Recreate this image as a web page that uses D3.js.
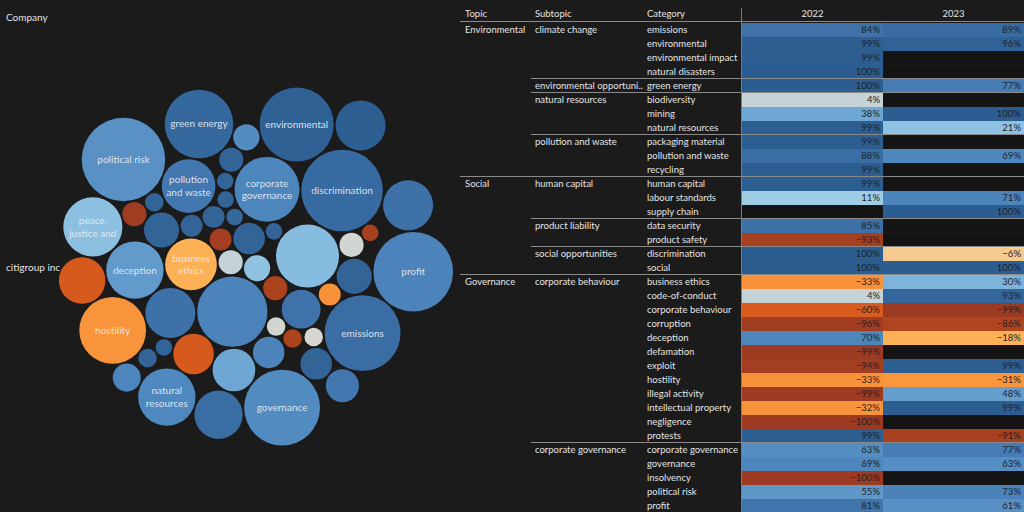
<!DOCTYPE html>
<html><head><meta charset="utf-8">
<script src="https://cdn.jsdelivr.net/npm/d3@7"></script>
<style>
html,body{margin:0;padding:0;background:#1b1b1b;}
svg{display:block;font-family:Lato,"Open Sans",sans-serif;}
</style></head><body>
<svg id="chart" width="1024" height="512"></svg>
<script>
// ---------------- Bubble chart data (category bubbles for the company) ----------------
const bubbleLabels = ["", "", "", "", "", "business ethics", "", "", "", "corporate governance",
  "", "", "", "", "", "deception", "", "", "discrimination", "",
  "", "", "", "", "", "", "emissions", "", "", "hostility",
  "governance", "", "", "", "environmental", "", "green energy", "", "", "natural resources",
  "", "", "", "", "", "peace, justice and", "", "", "profit", "pollution and waste",
  "", "political risk", ""];
const bubbleMentions = [20, 17, 29, 144, 8, 78, 17, 73, 116, 123,
  14, 44, 14, 48, 14, 96, 10, 8, 194, 8,
  36, 29, 53, 20, 17, 10, 168, 8, 36, 130,
  168, 17, 10, 29, 160, 17, 137, 8, 10, 96,
  73, 8, 32, 23, 10, 102, 14, 63, 185, 84,
  73, 203, 68];
const bubbleScores = [20, 4, 95, 72, 95, -18, -88, 85, 25, 70,
  -94, 84, -33, -62, 95, 52, 2, 92, 90, 95,
  95, 72, 38, 65, -97, 1, 88, 95, 95, -32,
  66, 95, -88, 95, 97, 2, 92, -92, 95, 68,
  99, 95, 80, 70, 95, 22, 95, -62, 72, 80,
  85, 60, 88];
const companyName = "citigroup inc";
const companyHeader = "Company";

// ---------------- Table data ----------------
const headerLabels = ["Topic", "Subtopic", "Category"];
const yearLabels = ["2022", "2023"];
const topics = ["Environmental","Environmental","Environmental","Environmental","Environmental","Environmental","Environmental","Environmental","Environmental","Environmental","Environmental",
  "Social","Social","Social","Social","Social","Social","Social",
  "Governance","Governance","Governance","Governance","Governance","Governance","Governance","Governance","Governance","Governance","Governance","Governance",
  "Governance","Governance","Governance","Governance","Governance"];
const subtopics = ["climate change","climate change","climate change","climate change",
  "environmental opportunities",
  "natural resources","natural resources","natural resources",
  "pollution and waste","pollution and waste","pollution and waste",
  "human capital","human capital","human capital",
  "product liability","product liability",
  "social opportunities","social opportunities",
  "corporate behaviour","corporate behaviour","corporate behaviour","corporate behaviour","corporate behaviour","corporate behaviour","corporate behaviour","corporate behaviour","corporate behaviour","corporate behaviour","corporate behaviour","corporate behaviour",
  "corporate governance","corporate governance","corporate governance","corporate governance","corporate governance"];
const categories = ["emissions","environmental","environmental impact","natural disasters",
  "green energy",
  "biodiversity","mining","natural resources",
  "packaging material","pollution and waste","recycling",
  "human capital","labour standards","supply chain",
  "data security","product safety",
  "discrimination","social",
  "business ethics","code-of-conduct","corporate behaviour","corruption","deception","defamation","exploit","hostility","illegal activity","intellectual property","negligence","protests",
  "corporate governance","governance","insolvency","political risk","profit"];
const score2022 = [84, 99, 99, 100, 100, 4, 38, 99, 99, 88, 99, 99, 11, null, 85, -93, 100, 100,
  -33, 4, -60, -96, 70, -99, -94, -33, -99, -32, -100, 99, 63, 69, -100, 55, 81];
const score2023 = [89, 96, null, null, 77, null, 100, 21, null, 69, null, null, 71, 100, null, null, -6, 100,
  30, 93, -99, -86, -18, null, 99, -31, 48, 99, null, -91, 77, 63, null, 73, 61];

// ---------------- Drawing ----------------
const svg = d3.select("#chart");
const textColor = "#e4e4e4";
const lineColor = "#8a8a8a";

const color = d3.scaleLinear()
  .domain([-100, -90, -60, -33, -18, -6, 0, 4, 11, 21, 30, 38, 55, 70, 84, 100])
  .range(["#9c3a22", "#a8411f", "#d95b1d", "#f8923a", "#fdb156", "#f6c98f", "#dcd8cf", "#c5d3d7",
          "#9fcde6", "#8ec2e2", "#7db4dc", "#6fa7d4", "#5f97c9", "#4d86bd", "#3e72a9", "#2c5d90"])
  .clamp(true);

svg.append("text").attr("x", 6).attr("y", 17).attr("dy", "0.35em")
  .attr("fill", textColor).attr("font-size", 10).text(companyHeader);
svg.append("text").attr("x", 6).attr("y", 267).attr("dy", "0.35em")
  .attr("fill", textColor).attr("font-size", 10).text(companyName);

// ---- packed bubbles ----
const rScale = d3.scaleSqrt().domain([0, d3.max(bubbleMentions)]).range([0, 45]);
const pad = 1.0;
const nodes = bubbleMentions.map((m, i) => ({ i, r: rScale(m) + pad }));
d3.packSiblings(nodes);
const enc0 = d3.packEnclose(nodes);
nodes.forEach(d => { d.x -= enc0.x; d.y -= enc0.y; });
// compact the packing into a round blob (deterministic force relaxation)
const sim = d3.forceSimulation(nodes)
  .alpha(0.3).alphaDecay(0)
  .force("x", d3.forceX(0).strength(0.05))
  .force("y", d3.forceY(0).strength(0.05))
  .force("collide", d3.forceCollide(d => d.r).strength(1).iterations(8))
  .stop();
for (let k = 0; k < 700; k++) sim.tick();
sim.alphaDecay(0.02);
for (let k = 0; k < 300; k++) sim.tick();
// presentation: rotate the blob half a turn
const rot = Math.PI;
nodes.forEach(d => {
  const x = d.x, y = d.y;
  d.x = x * Math.cos(rot) - y * Math.sin(rot);
  d.y = x * Math.sin(rot) + y * Math.cos(rot);
});
// fit the blob into the plot region
const plot = { x0: 58, x1: 454, y0: 69, y1: 464 };
const minX = d3.min(nodes, d => d.x - d.r), maxX = d3.max(nodes, d => d.x + d.r);
const minY = d3.min(nodes, d => d.y - d.r), maxY = d3.max(nodes, d => d.y + d.r);
const s = Math.min((plot.x1 - plot.x0) / (maxX - minX), (plot.y1 - plot.y0) / (maxY - minY));
const cxm = (plot.x0 + plot.x1) / 2, cym = (plot.y0 + plot.y1) / 2;
const bx = d3.scaleLinear().domain([(minX + maxX) / 2, (minX + maxX) / 2 + 1]).range([cxm, cxm + s]);
const by = d3.scaleLinear().domain([(minY + maxY) / 2, (minY + maxY) / 2 + 1]).range([cym, cym + s]);

const bub = svg.append("g").attr("class", "bubbles");
bub.selectAll("circle").data(nodes).join("circle")
  .attr("cx", d => bx(d.x)).attr("cy", d => by(d.y))
  .attr("r", d => (d.r - pad) * s)
  .attr("fill", d => color(bubbleScores[d.i]));

function wrapLines(label, maxW, fs) {
  const tmp = svg.append("text").attr("font-size", fs).attr("visibility", "hidden");
  const words = label.split(" ");
  const lines = [];
  let cur = "";
  words.forEach(w => {
    const test = cur ? cur + " " + w : w;
    tmp.text(test);
    if (tmp.node().getComputedTextLength() > maxW && cur) { lines.push(cur); cur = w; }
    else cur = test;
  });
  if (cur) lines.push(cur);
  tmp.remove();
  return lines.slice(0, 2);
}

const lblFs = 10;
nodes.forEach(d => {
  const label = bubbleLabels[d.i];
  if (!label) return;
  const rr = (d.r - pad) * s;
  const lines = wrapLines(label, Math.max(rr * 1.8, 50), lblFs);
  const lh = 12.5;
  const t = bub.append("text")
    .attr("text-anchor", "middle").attr("font-size", lblFs)
    .attr("fill", "#e6edf3").attr("fill-opacity", 0.92);
  lines.forEach((ln, k) => {
    t.append("tspan").attr("x", bx(d.x))
      .attr("y", by(d.y) + (k - (lines.length - 1) / 2) * lh)
      .attr("dy", "0.35em").text(ln);
  });
});

// ---- Table ----
const n = categories.length;
const rowH = 14;
const tableTop = 23;
const rowY = d3.scaleBand().domain(d3.range(n)).range([tableTop, tableTop + n * rowH]);
const colX = d3.scaleBand().domain(yearLabels).range([742, 1024]);
const xTopic = 465, xSub = 535, xCat = 647;
const tableFs = 9.5;

const tbl = svg.append("g").attr("class", "table").attr("font-size", tableFs);

const headX = [xTopic, xSub, xCat];
headerLabels.forEach((h, k) => {
  tbl.append("text").attr("x", headX[k]).attr("y", 14).attr("dy", "0.35em")
    .attr("fill", textColor).text(h);
});
yearLabels.forEach(yl => {
  tbl.append("text").attr("x", colX(yl) + colX.bandwidth() / 2).attr("y", 14).attr("dy", "0.35em")
    .attr("text-anchor", "middle").attr("fill", textColor).text(yl);
});

const years = [score2022, score2023];
yearLabels.forEach((yl, k) => {
  const vals = years[k];
  d3.range(n).forEach(i => {
    const v = vals[i];
    const x0 = colX(yl);
    if (v === null) {
      tbl.append("rect").attr("x", x0 + (k ? 0.5 : 0)).attr("y", rowY(i) + 0.5)
        .attr("width", colX.bandwidth() - 0.5).attr("height", rowH - 1).attr("fill", "#141414");
    } else {
      tbl.append("rect").attr("x", x0).attr("y", rowY(i))
        .attr("width", colX.bandwidth()).attr("height", rowH).attr("fill", color(v));
      tbl.append("text").attr("x", x0 + colX.bandwidth() - 3).attr("y", rowY(i) + rowH / 2)
        .attr("dy", "0.35em").attr("text-anchor", "end").attr("fill", "#1d2228")
        .text(d3.format(".0%")(v / 100));
    }
  });
});

function truncate(textSel, maxW) {
  const node = textSel.node();
  let str = textSel.text();
  if (node.getComputedTextLength() <= maxW) return;
  while (str.length > 1) {
    str = str.slice(0, -1);
    textSel.text(str + "..");
    if (node.getComputedTextLength() <= maxW) return;
  }
}

d3.range(n).forEach(i => {
  const yc = rowY(i) + rowH / 2;
  if (i === 0 || topics[i] !== topics[i - 1]) {
    tbl.append("text").attr("x", xTopic).attr("y", yc).attr("dy", "0.35em")
      .attr("fill", textColor).text(topics[i]);
  }
  if (i === 0 || subtopics[i] !== subtopics[i - 1] || topics[i] !== topics[i - 1]) {
    const t = tbl.append("text").attr("x", xSub).attr("y", yc).attr("dy", "0.35em")
      .attr("fill", textColor).text(subtopics[i]);
    truncate(t, xCat - xSub - 3);
  }
  tbl.append("text").attr("x", xCat).attr("y", yc).attr("dy", "0.35em")
    .attr("fill", textColor).text(categories[i]);
});

tbl.append("line").attr("x1", 460).attr("x2", 1024).attr("y1", 21.5).attr("y2", 21.5)
  .attr("stroke", lineColor).attr("stroke-width", 1);
d3.range(1, n).forEach(i => {
  let x1 = null;
  if (topics[i] !== topics[i - 1]) x1 = 460;
  else if (subtopics[i] !== subtopics[i - 1]) x1 = 531;
  if (x1 !== null) {
    tbl.append("line").attr("x1", x1).attr("x2", 1024)
      .attr("y1", rowY(i) - 0.5).attr("y2", rowY(i) - 0.5)
      .attr("stroke", lineColor).attr("stroke-width", 1);
  }
});
tbl.append("line").attr("x1", 741.5).attr("x2", 741.5).attr("y1", 8).attr("y2", 512)
  .attr("stroke", "#7a7a7a").attr("stroke-width", 1);
</script>
</body></html>
